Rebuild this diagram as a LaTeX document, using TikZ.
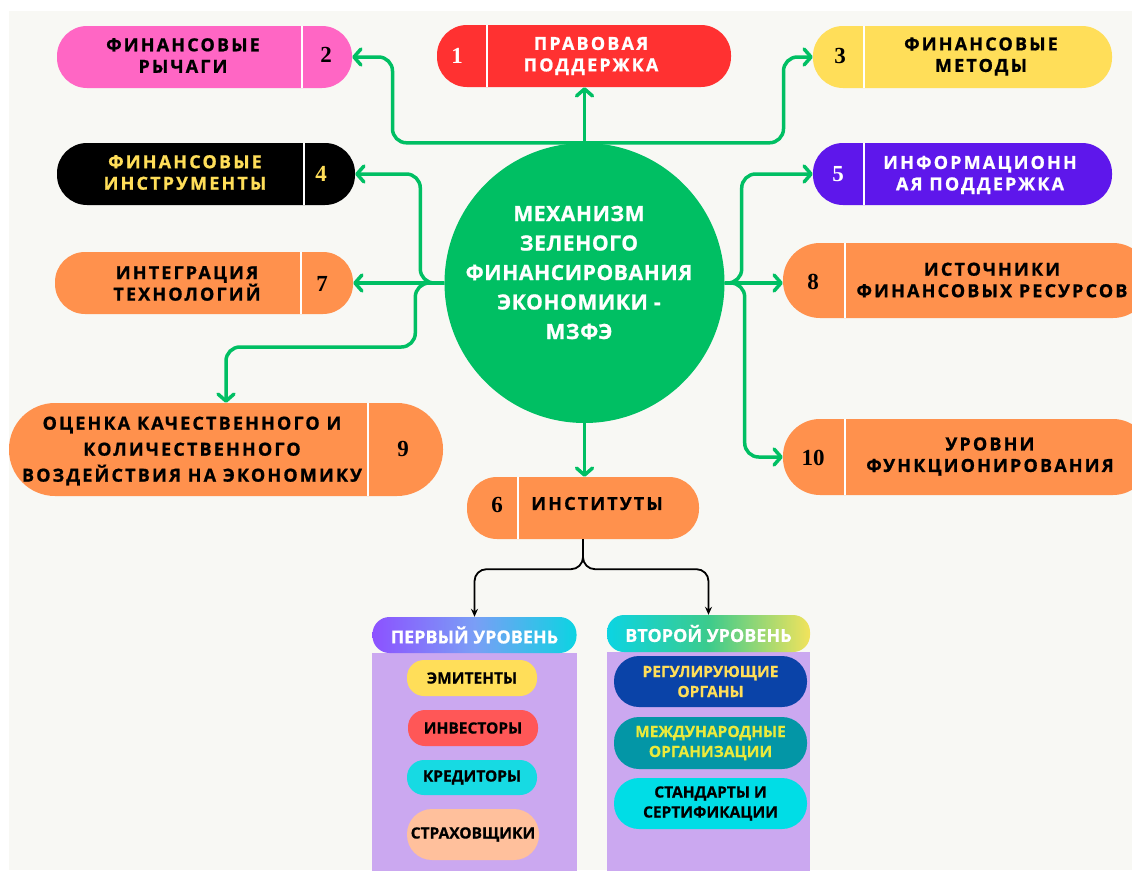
\documentclass[tikz,border=0pt]{standalone}
\usepackage{fontspec}
\setmainfont{Open Sans}
\newfontfamily\Espace[LetterSpace=12,BoldFeatures={FakeBold=1}]{Open Sans}
\newfontfamily\Centre[LetterSpace=3,BoldFeatures={FakeBold=1}]{Open Sans}
\newfontfamily\Etroit[BoldFeatures={FakeBold=0.6}]{Open Sans}
\newfontfamily\Chiffre{Liberation Serif}
\usetikzlibrary{arrows.meta}
\definecolor{Fond}{HTML}{F8F8F4}
\definecolor{Vert}{HTML}{00BF63}
\definecolor{Rose}{HTML}{FF66C4}
\definecolor{Rouge}{HTML}{FF3131}
\definecolor{Jaune}{HTML}{FFDE59}
\definecolor{JauneVif}{HTML}{EAEA3C}
\definecolor{Violet}{HTML}{5E17EB}
\definecolor{Orange}{HTML}{FF914D}
\definecolor{Lavande}{HTML}{CBA8F0}
\definecolor{Mauve}{HTML}{8C52FF}
\definecolor{Cyan}{HTML}{0CD4E2}
\definecolor{VertClair}{HTML}{3CCB8C}
\definecolor{JaunePale}{HTML}{F2E35C}
\definecolor{RougeClair}{HTML}{FF5757}
\definecolor{Turquoise}{HTML}{17DAE3}
\definecolor{Peche}{HTML}{FFC09C}
\definecolor{BleuFonce}{HTML}{0A43A8}
\definecolor{Sarcelle}{HTML}{0396A6}
\definecolor{CyanVif}{HTML}{00DDE6}
\tikzset{
Bloc/.style={
 inner sep=0pt,
 minimum height=62pt,
 rounded corners=30pt
 },
Separ/.style={
 draw=white,
 line width=2.5pt
 },
Texte/.style={
 font=\Espace\bfseries\fontsize{18}{21.5}\selectfont,
 align=center,
 inner sep=0pt
 },
Numero/.style={
 font=\Chiffre\bfseries\fontsize{23}{23}\selectfont,
 inner sep=0pt
 },
Fleche/.style={
 draw=Vert,
 line width=3.5pt,
 rounded corners=14pt,
 -{Straight Barb[length=7pt,width=16pt,round]}
 },
Trait/.style={
 draw=black,
 line width=1.8pt,
 rounded corners=12pt,
 -{Stealth[length=8pt,width=7pt]}
 },
Entete/.style={
 inner sep=0pt,
 minimum height=36pt,
 minimum width=204pt,
 rounded corners=17pt,
 text=white,
 font=\Etroit\bfseries\fontsize{18}{20}\selectfont
 },
Element/.style={
 inner sep=0pt,
 minimum height=36pt,
 minimum width=130pt,
 rounded corners=17pt,
 align=center,
 font=\Etroit\bfseries\fontsize{15.5}{20}\selectfont
 }
}
\begin{document}
\begin{tikzpicture}[x=1pt,y=-1pt]
\useasboundingbox (0,0) rectangle (1132,870);
\fill[Fond] (9,11) rectangle (1132,870);
% niveaux
\fill[Lavande] (372,653) rectangle (577,875);
\fill[Lavande] (607,652) rectangle (810,875);
\node[Entete, left color=Mauve, right color=Cyan, middle color=Cyan!40!Mauve!80!white] (h1) at (474.5,635) {ПЕРВЫЙ УРОВЕНЬ};
\node[Entete, minimum width=203pt, minimum height=37pt, left color=Cyan, right color=JaunePale, middle color=VertClair] (h2) at (708.5,633.5) {ВТОРОЙ УРОВЕНЬ};
\node[Element, fill=Jaune] (e1) at (472,678) {ЭМИТЕНТЫ};
\node[Element, fill=RougeClair] (e2) at (473,728) {ИНВЕСТОРЫ};
\node[Element, fill=Turquoise, minimum height=35pt] (e3) at (472,777.5) {КРЕДИТОРЫ};
\node[Element, fill=Peche, minimum width=132pt, minimum height=51pt, rounded corners=25pt] (e4) at (473,834.5) {СТРАХОВЩИКИ};
\node[Element, fill=BleuFonce, text=Jaune, minimum width=193pt, minimum height=51pt, rounded corners=25pt] (r1) at (710.5,681.5) {РЕГУЛИРУЮЩИЕ\\ОРГАНЫ};
\node[Element, fill=Sarcelle, text=JauneVif, minimum width=193pt, minimum height=52pt, rounded corners=25pt] (r2) at (710.5,743) {МЕЖДУНАРОДНЫЕ\\ОРГАНИЗАЦИИ};
\node[Element, fill=CyanVif, minimum width=193pt, minimum height=51pt, rounded corners=25pt] (r3) at (710.5,803.5) {СТАНДАРТЫ И\\СЕРТИФИКАЦИИ};
% centre
\node[circle, fill=Vert, minimum size=280pt, inner sep=0pt] (c) at (584.5,283) {};
\node[font=\Centre\bfseries\fontsize{21}{29.5}\selectfont, text=white, align=center, inner sep=0pt] (ct) at (579,272.5) {МЕХАНИЗМ\\ЗЕЛЕНОГО\\ФИНАНСИРОВАНИЯ\\ЭКОНОМИКИ -\\МЗФЭ};
% blocs
\node[Bloc, fill=Rouge, minimum width=294pt] (b1) at (584,56) {};
\node[Bloc, fill=Rose, minimum width=295pt] (b2) at (204.5,57) {};
\node[Bloc, fill=Jaune, minimum width=299pt] (b3) at (962.5,57) {};
\node[Bloc, fill=black, minimum width=298pt] (b4) at (206,174) {};
\node[Bloc, fill=Violet, minimum width=299pt] (b5) at (962.5,174) {};
\node[Bloc, fill=Orange, minimum width=298pt] (b7) at (204,283) {};
\node[Bloc, fill=Orange, minimum width=367pt, minimum height=75pt, rounded corners=37pt] (b8) at (966.5,280.5) {};
\node[Bloc, fill=Orange, minimum width=434pt, minimum height=93pt, rounded corners=46pt] (b9) at (226,449.5) {};
\node[Bloc, fill=Orange, minimum width=367pt, minimum height=76pt, rounded corners=37pt] (b10) at (966.5,457) {};
\node[Bloc, fill=Orange, minimum width=232pt] (b6) at (583,508) {};
\draw[Separ] (487,25) -- (487,87);
\draw[Separ] (302,26) -- (302,88);
\draw[Separ] (864,26) -- (864,88);
\draw[Separ] (304,143) -- (304,205);
\draw[Separ] (864,143) -- (864,205);
\draw[Separ] (301,252) -- (301,314);
\draw[Separ] (845,243) -- (845,318);
\draw[Separ] (368,403) -- (368,496);
\draw[Separ] (845,419) -- (845,495);
\draw[Separ] (518,477) -- (518,539);
\node[Texte, text=white] (t1) at (591,56) {ПРАВОВАЯ\\ПОДДЕРЖКА};
\node[Texte] (t2) at (183,55.5) {ФИНАНСОВЫЕ\\РЫЧАГИ};
\node[Texte] (t3) at (981,56.5) {ФИНАНСОВЫЕ\\МЕТОДЫ};
\node[Texte, text=Jaune] (t4) at (185,172.5) {ФИНАНСОВЫЕ\\ИНСТРУМЕНТЫ};
\node[Texte, text=white] (t5) at (980,175) {ИНФОРМАЦИОНН\\АЯ ПОДДЕРЖКА};
\node[Texte] (t7) at (187,283.5) {ИНТЕГРАЦИЯ\\ТЕХНОЛОГИЙ};
\node[Texte] (t8) at (992,280) {ИСТОЧНИКИ\\ФИНАНСОВЫХ РЕСУРСОВ};
\node[Texte, font=\Espace\bfseries\fontsize{18}{26}\selectfont] (t9) at (192,451) {ОЦЕНКА КАЧЕСТВЕННОГО И\\КОЛИЧЕСТВЕННОГО\\ВОЗДЕЙСТВИЯ НА ЭКОНОМИКУ};
\node[Texte] (t10) at (990,456.5) {УРОВНИ\\ФУНКЦИОНИРОВАНИЯ};
\node[Texte] (t6) at (597,503.5) {ИНСТИТУТЫ};
\node[Numero, text=white] (n1) at (457,56) {1};
\node[Numero] (n2) at (326,55) {2};
\node[Numero] (n3) at (840,56) {3};
\node[Numero, text=Jaune] (n4) at (321,174) {4};
\node[Numero, text=white] (n5) at (838,174) {5};
\node[Numero] (n7) at (322,284) {7};
\node[Numero] (n8) at (813,282) {8};
\node[Numero] (n9) at (403,449) {9};
\node[Numero] (n10) at (813,458) {10};
\node[Numero] (n6) at (497,505) {6};
% fleches
\draw[Fleche] (c.north) -- (c.north |- b1.south);
\draw[Fleche] (c.north) -- ++(-192,0) |- (b2.east);
\draw[Fleche] (c.north) -- ++(199,0) |- (b3.west);
\draw[Fleche] (c.west) -- ++(-24,0) |- (b4.east);
\draw[Fleche] (c.west) -- (c.west -| b7.east);
\draw[Fleche] (c.west) -- ++(-29,0) -- ++(0,64) -| (b9.north);
\draw[Fleche] (c.east) -- ++(17,0) |- (b5.west);
\draw[Fleche] (c.east) -- (c.east -| b8.west);
\draw[Fleche] (c.east) -- ++(20,0) |- (b10.west);
\draw[Fleche] (c.south) -- (c.south |- b6.north);
\draw[Trait] (b6.south) -- ++(0,30) -| (h1.north);
\draw[Trait] (b6.south) -- ++(0,30) -| (h2.north);
\end{tikzpicture}
\end{document}
